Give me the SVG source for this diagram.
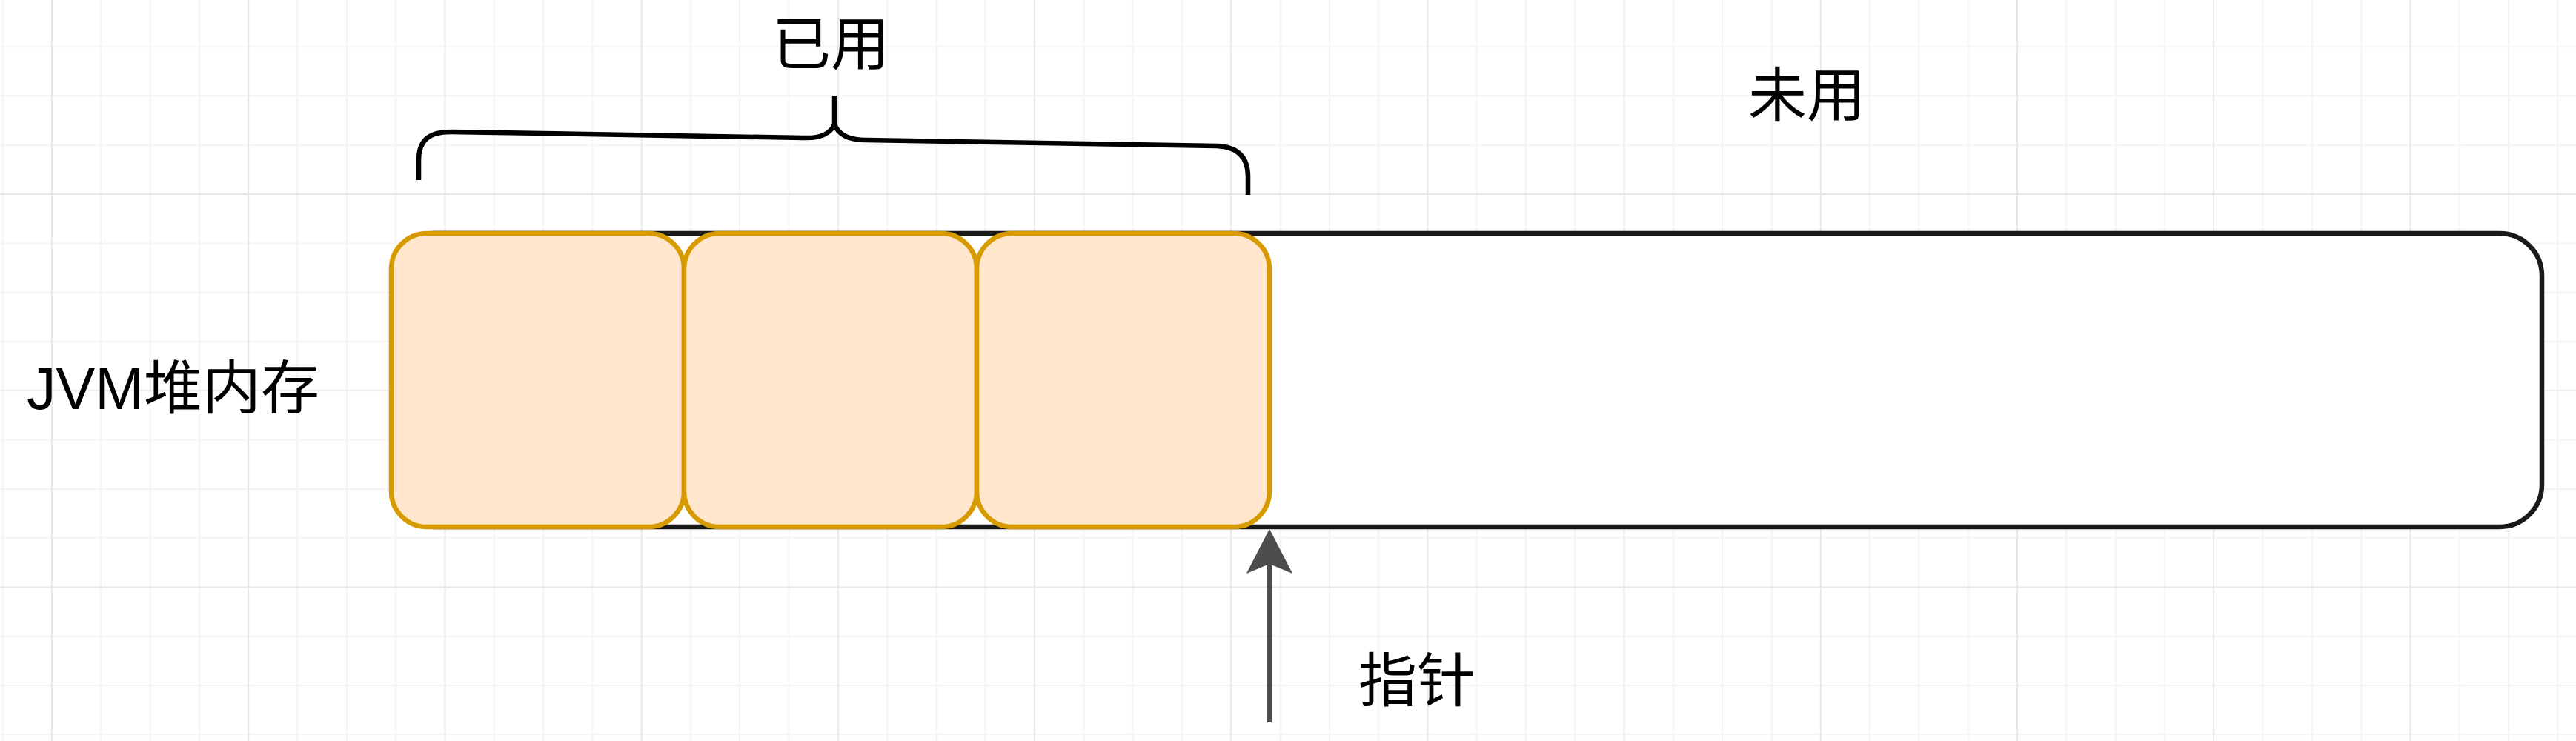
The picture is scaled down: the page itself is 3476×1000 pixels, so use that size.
<svg xmlns="http://www.w3.org/2000/svg" width="3476" height="1000" viewBox="0 0 3476 1000">
  <defs>
    <style>
      .lbl { font-family: "Liberation Sans", "Noto Sans CJK SC", sans-serif; font-size: 79px; fill: #000000; }
      .used { fill: #ffe6cc; stroke: #d79b00; stroke-width: 6.5; }
      .heap { fill: #ffffff; stroke: #1a1a1a; stroke-width: 6.5; }
      .brace { fill: none; stroke: #000000; stroke-width: 6.5; stroke-linecap: butt; }
      .conn { stroke: #4d4d4d; stroke-width: 6; fill: none; }
    </style>
    <pattern id="grid" patternUnits="userSpaceOnUse" x="69" y="261" width="265.2" height="265.2">
      <rect x="0" y="0" width="265.2" height="265.2" fill="#ffffff"/>
      <rect x="66.3" y="0" width="2" height="265.2" fill="#f4f4f4"/>
      <rect x="132.6" y="0" width="2" height="265.2" fill="#f4f4f4"/>
      <rect x="198.9" y="0" width="2" height="265.2" fill="#f4f4f4"/>
      <rect x="0" y="66.3" width="265.2" height="2" fill="#f4f4f4"/>
      <rect x="0" y="132.6" width="265.2" height="2" fill="#f4f4f4"/>
      <rect x="0" y="198.9" width="265.2" height="2" fill="#f4f4f4"/>
      <rect x="0" y="0" width="2" height="265.2" fill="#e8e8e8"/>
      <rect x="0" y="0" width="265.2" height="2" fill="#e8e8e8"/>
    </pattern>
  </defs>
  <rect id="background" x="0" y="0" width="3476" height="1000" fill="url(#grid)"/>

  <g id="heap">
    <rect class="heap" x="529" y="315" width="2901" height="396" rx="57" ry="57"/>
  </g>
  <g id="used-1">
    <rect class="used" x="528" y="315" width="395" height="396" rx="48" ry="48"/>
  </g>
  <g id="used-2">
    <rect class="used" x="923" y="315" width="395" height="396" rx="48" ry="48"/>
  </g>
  <g id="used-3">
    <rect class="used" x="1318" y="315" width="395" height="396" rx="48" ry="48"/>
  </g>

  <g id="brace">
    <path class="brace" d="M 565 243 V 216 C 565 190 578 178 608 178 L 1084 186 C 1106 187 1120 181 1126 168 M 1126 129 V 168 C 1132 183 1146 189 1168 189 L 1642 197 C 1670 198 1684 212 1684 238 V 263"/>
  </g>

  <g id="heap-label">
    <text class="lbl" x="36" y="552">JVM堆内存</text>
  </g>
  <g id="used-label">
    <text class="lbl" x="1121" y="88" text-anchor="middle">已用</text>
  </g>
  <g id="unused-label">
    <text class="lbl" x="2438" y="157" text-anchor="middle">未用</text>
  </g>
  <g id="pointer-label">
    <text class="lbl" x="1912" y="947" text-anchor="middle">指针</text>
  </g>

  <g id="connectors">
    <line class="conn" x1="1713" y1="975" x2="1713" y2="758"/>
    <polygon points="1713,716 1742,772 1713,760 1684,772" fill="#4d4d4d" stroke="#4d4d4d" stroke-width="2" stroke-linejoin="miter"/>
  </g>
</svg>
